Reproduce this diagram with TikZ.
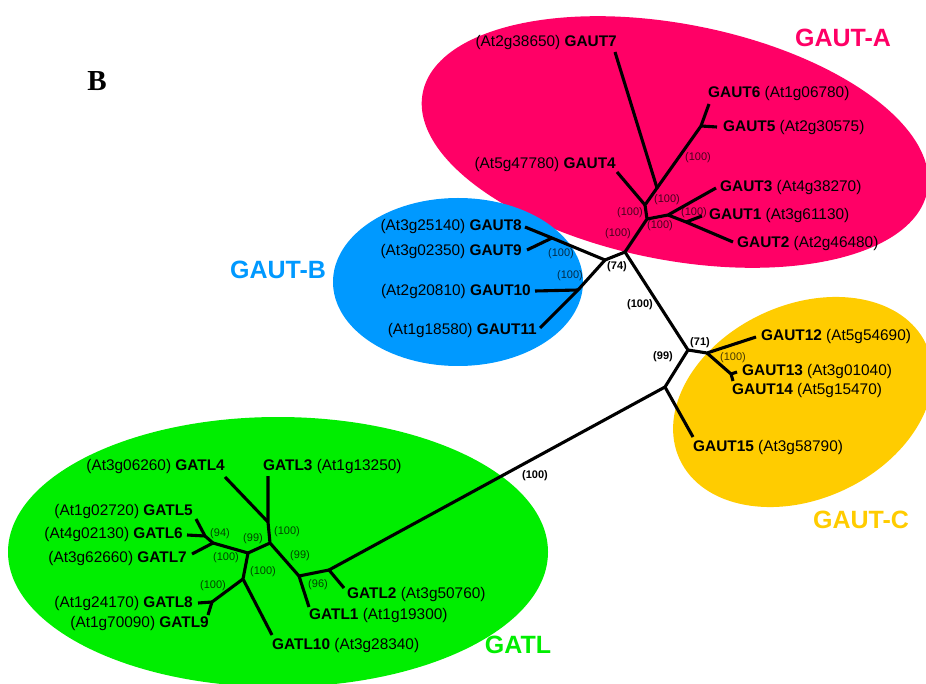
\documentclass[tikz,border=0pt]{standalone}
\usepackage{fontspec}
\setmainfont{Liberation Sans}
\newfontfamily\serifB{Liberation Serif}
\definecolor{gautA}{RGB}{255,0,102}
\definecolor{gautB}{RGB}{0,153,255}
\definecolor{gautC}{RGB}{255,204,0}
\definecolor{gatl}{RGB}{0,238,0}
\begin{document}
\begin{tikzpicture}[x=1pt,y=-1pt,
  br/.style={line width=3.1pt, line join=round},
  lbl/.style={inner sep=0pt, font=\fontsize{15.4}{17}\selectfont},
  bs/.style={inner sep=0pt, font=\fontsize{11}{12}\selectfont, text opacity=0.72},
  bsb/.style={inner sep=0pt, font=\fontsize{11}{12}\selectfont\bfseries},
  grp/.style={inner sep=0pt, font=\fontsize{25}{28}\selectfont\bfseries}]
\useasboundingbox (0,0) rectangle (926,684);
\fill[white] (0,0) rectangle (926,684);
% clade ellipses
\fill[gautA, rotate around={-11:(675,142)}] (675,142) ellipse [x radius=257pt, y radius=118pt];
\fill[gautB] (458,282) ellipse [x radius=125pt, y radius=84pt];
\fill[gautC, rotate around={25:(803,402)}] (803,402) ellipse [x radius=136pt, y radius=97pt];
\fill[gatl] (278,552) ellipse [x radius=270pt, y radius=135pt];
% GAUT-A coordinates
\coordinate (t7) at (615,52);
\coordinate (t6) at (709,104);
\coordinate (a56) at (701,126);
\coordinate (t5) at (717,127);
\coordinate (a1) at (657,188);
\coordinate (t4) at (617,172);
\coordinate (a2) at (645,205);
\coordinate (a3) at (647,219);
\coordinate (a4) at (668,215);
\coordinate (t3) at (716,188);
\coordinate (a5) at (686,222);
\coordinate (t1) at (702,216);
\coordinate (t2) at (733,242);
\coordinate (ar) at (625,252);
% GAUT-B
\coordinate (nb) at (605,260);
\coordinate (b89) at (552,238);
\coordinate (t8) at (525,227);
\coordinate (t9) at (527,250);
\coordinate (b1011) at (578,290);
\coordinate (t10) at (535,291);
\coordinate (t11) at (540,328);
% GAUT-C
\coordinate (c0) at (688,350);
\coordinate (c1) at (707,353);
\coordinate (t12) at (756,337);
\coordinate (c134) at (731,374);
\coordinate (t13) at (737,372);
\coordinate (t14) at (733,381);
\coordinate (c2) at (665,387);
\coordinate (t15) at (693,437);
% GATL
\coordinate (l0) at (329,570);
\coordinate (tL2) at (344,588);
\coordinate (l1) at (299,576);
\coordinate (tL1) at (309,607);
\coordinate (l2) at (270,543);
\coordinate (l3) at (268,522);
\coordinate (tL3) at (268,476);
\coordinate (tL4) at (225,477);
\coordinate (l4) at (248,553);
\coordinate (l5) at (213,543);
\coordinate (l7) at (205,536);
\coordinate (tL5) at (196,519);
\coordinate (tL6) at (187,535);
\coordinate (tL7) at (192,554);
\coordinate (l6) at (243,579);
\coordinate (l89) at (212,602);
\coordinate (tL8) at (198,603);
\coordinate (tL9) at (208,615);
\coordinate (tL10) at (272,635);
% branches
\draw[br] (t7) -- (a1) -- (a2) -- (a3) -- (ar);
\draw[br] (a1) -- (a56) -- (t6);
\draw[br] (a56) -- (t5);
\draw[br] (t4) -- (a2);
\draw[br] (a3) -- (a4) -- (t3);
\draw[br] (a4) -- (a5) -- (t2);
\draw[br] (a5) -- (t1);
\draw[br] (ar) -- (nb) -- (b89) -- (t8);
\draw[br] (b89) -- (t9);
\draw[br] (nb) -- (b1011) -- (t11);
\draw[br] (b1011) -- (t10);
\draw[br] (ar) -- (c0) -- (c1) -- (t12);
\draw[br] (c1) -- (c134) -- (t14);
\draw[br] (c134) -- (t13);
\draw[br] (c0) -- (c2) -- (t15);
\draw[br] (c2) -- (l0) -- (tL2);
\draw[br] (l0) -- (l1) -- (tL1);
\draw[br] (l1) -- (l2) -- (l3) -- (tL3);
\draw[br] (l3) -- (tL4);
\draw[br] (l2) -- (l4) -- (l5) -- (tL7);
\draw[br] (l5) -- (l7) -- (tL5);
\draw[br] (l7) -- (tL6);
\draw[br] (l4) -- (l6) -- (tL10);
\draw[br] (l6) -- (l89) -- (tL9);
\draw[br] (l89) -- (tL8);
% leaf labels GAUT-A
\node[lbl, anchor=east] (gaut7) at (617,43) {(At2g38650) \textbf{GAUT7}};
\node[lbl, anchor=west] (gaut6) at (708,94) {\textbf{GAUT6} (At1g06780)};
\node[lbl, anchor=west] (gaut5) at (723,128) {\textbf{GAUT5} (At2g30575)};
\node[lbl, anchor=east] (gaut4) at (616,165) {(At5g47780) \textbf{GAUT4}};
\node[lbl, anchor=west] (gaut3) at (720,188) {\textbf{GAUT3} (At4g38270)};
\node[lbl, anchor=west] (gaut1) at (709,216) {\textbf{GAUT1} (At3g61130)};
\node[lbl, anchor=west] (gaut2) at (737,244) {\textbf{GAUT2} (At2g46480)};
% GAUT-B
\node[lbl, anchor=east] (gaut8) at (522,227) {(At3g25140) \textbf{GAUT8}};
\node[lbl, anchor=east] (gaut9) at (522,252) {(At3g02350) \textbf{GAUT9}};
\node[lbl, anchor=east] (gaut10) at (531,292) {(At2g20810) \textbf{GAUT10}};
\node[lbl, anchor=east] (gaut11) at (537,331) {(At1g18580) \textbf{GAUT11}};
% GAUT-C
\node[lbl, anchor=west] (gaut12) at (761,337) {\textbf{GAUT12} (At5g54690)};
\node[lbl, anchor=west] (gaut13) at (742,372) {\textbf{GAUT13} (At3g01040)};
\node[lbl, anchor=west] (gaut14) at (732,391) {\textbf{GAUT14} (At5g15470)};
\node[lbl, anchor=west] (gaut15) at (693,448) {\textbf{GAUT15} (At3g58790)};
% GATL
\node[lbl, anchor=east] (gatl4) at (225,467) {(At3g06260) \textbf{GATL4}};
\node[lbl, anchor=west] (gatl3) at (263,467) {\textbf{GATL3} (At1g13250)};
\node[lbl, anchor=east] (gatl5) at (193,512) {(At1g02720) \textbf{GATL5}};
\node[lbl, anchor=east] (gatl6) at (183,535) {(At4g02130) \textbf{GATL6}};
\node[lbl, anchor=east] (gatl7) at (187,559) {(At3g62660) \textbf{GATL7}};
\node[lbl, anchor=east] (gatl8) at (193,604) {(At1g24170) \textbf{GATL8}};
\node[lbl, anchor=east] (gatl9) at (209,624) {(At1g70090) \textbf{GATL9}};
\node[lbl, anchor=west] (gatl10) at (272,646) {\textbf{GATL10} (At3g28340)};
\node[lbl, anchor=west] (gatl1) at (309,616) {\textbf{GATL1} (At1g19300)};
\node[lbl, anchor=west] (gatl2) at (347,595) {\textbf{GATL2} (At3g50760)};
% bootstrap values
\node[bs] (bA1) at (667,200) {(100)};
\node[bs] (bA2) at (630,213) {(100)};
\node[bs] (bA3) at (660,226) {(100)};
\node[bs] (bA5) at (694,213) {(100)};
\node[bs] (bA56) at (698,158) {(100)};
\node[bs] (bAr) at (618,234) {(100)};
\node[bs] (bB89) at (561,254) {(100)};
\node[bs] (bB1011) at (570,276) {(100)};
\node[bs] (bC134) at (733,358) {(100)};
\node[bs] (bL7) at (220,534) {(94)};
\node[bs] (bL4) at (253,539) {(99)};
\node[bs] (bL3) at (287,532) {(100)};
\node[bs] (bL5) at (226,558) {(100)};
\node[bs] (bL6) at (263,572) {(100)};
\node[bs] (bL89) at (213,586) {(100)};
\node[bs] (bL2) at (300,556) {(99)};
\node[bs] (bL1) at (318,585) {(96)};
\node[bsb] (bNB) at (617,267) {(74)};
\node[bsb] (bAC) at (640,305) {(100)};
\node[bsb] (bC0) at (700,343) {(71)};
\node[bsb] (bC2) at (663,357) {(99)};
\node[bsb] (bLong) at (535,476) {(100)};
% group labels
\node[grp, text=gautA] (labA) at (843,38) {GAUT-A};
\node[grp, text=gautB] (labB) at (278,270) {GAUT-B};
\node[grp, text=gautC] (labC) at (861,520) {GAUT-C};
\node[grp, text=gatl] (labL) at (518,645) {GATL};
\node[inner sep=0pt, font=\serifB\fontsize{29}{32}\selectfont\bfseries] (panel) at (97,81) {B};
\end{tikzpicture}
\end{document}
